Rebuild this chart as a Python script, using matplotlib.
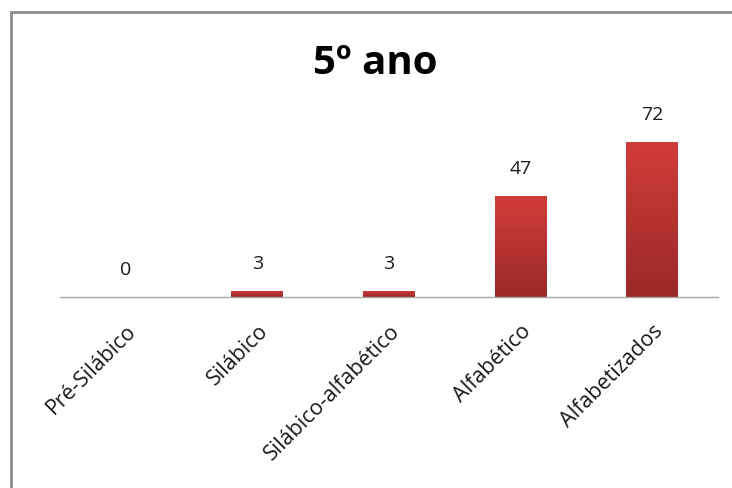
import numpy as np
import matplotlib
matplotlib.use("Agg")
import matplotlib.pyplot as plt
from matplotlib.colors import LinearSegmentedColormap
from matplotlib.patches import Rectangle

categorias = ["Pré-Silábico", "Silábico", "Silábico-alfabético", "Alfabético", "Alfabetizados"]
valores = [0, 3, 3, 47, 72]
titulo = "5º ano"

plt.rcParams['font.family'] = ['Open Sans', 'DejaVu Sans']

fig = plt.figure(figsize=(7.32, 4.88), dpi=100)
W, H = 732, 488
ax = fig.add_axes([60 / W, 1 - 297 / H, 658 / W, 237 / H])

x = np.arange(len(categorias))
bars = ax.bar(x, valores, width=0.395, color='none', edgecolor='none')
ax.set_xlim(-0.5, len(categorias) - 0.5)
ax.set_ylim(0, 110)

# gradient fill: lighter red on top, darker at the base
cmap = LinearSegmentedColormap.from_list("red", ["#9a2927", "#d13d3b"])
grad = np.linspace(0, 1, 256).reshape(-1, 1)
for b in bars:
    if b.get_height() <= 0:
        continue
    x0, w, h = b.get_x(), b.get_width(), b.get_height()
    im = ax.imshow(grad, cmap=cmap, origin='lower', aspect='auto',
                   extent=[x0, x0 + w, 0, h], zorder=2)
    im.set_clip_path(b)

for xi, v in zip(x, valores):
    ax.annotate(str(v), (xi, v), xytext=(0, 27), textcoords='offset pixels',
                ha='center', va='center', fontsize=14, color='#1a1a1a')

for s in ['top', 'right', 'left']:
    ax.spines[s].set_visible(False)
ax.spines['bottom'].set_color('#a6a6a6')
ax.spines['bottom'].set_linewidth(1)
ax.set_yticks([])
ax.set_xticks(x)
ax.set_xticklabels(categorias, rotation=45, ha='right', rotation_mode='anchor',
                   fontsize=15.5, color='#1a1a1a')
ax.tick_params(axis='x', length=0, pad=17)

fig.text(375 / W, 1 - 64 / H, titulo, ha='center', va='center',
         fontsize=29, fontweight='bold', color='black')

# chart frame (only top/left edges visible in the reference crop)
fig.patches.append(Rectangle((11 / W, -0.1), 1.2, 1 - 12 / H + 0.1,
                             transform=fig.transFigure, fill=False,
                             edgecolor='#8c8c8c', linewidth=2))

fig.savefig("out.png", dpi=100)
